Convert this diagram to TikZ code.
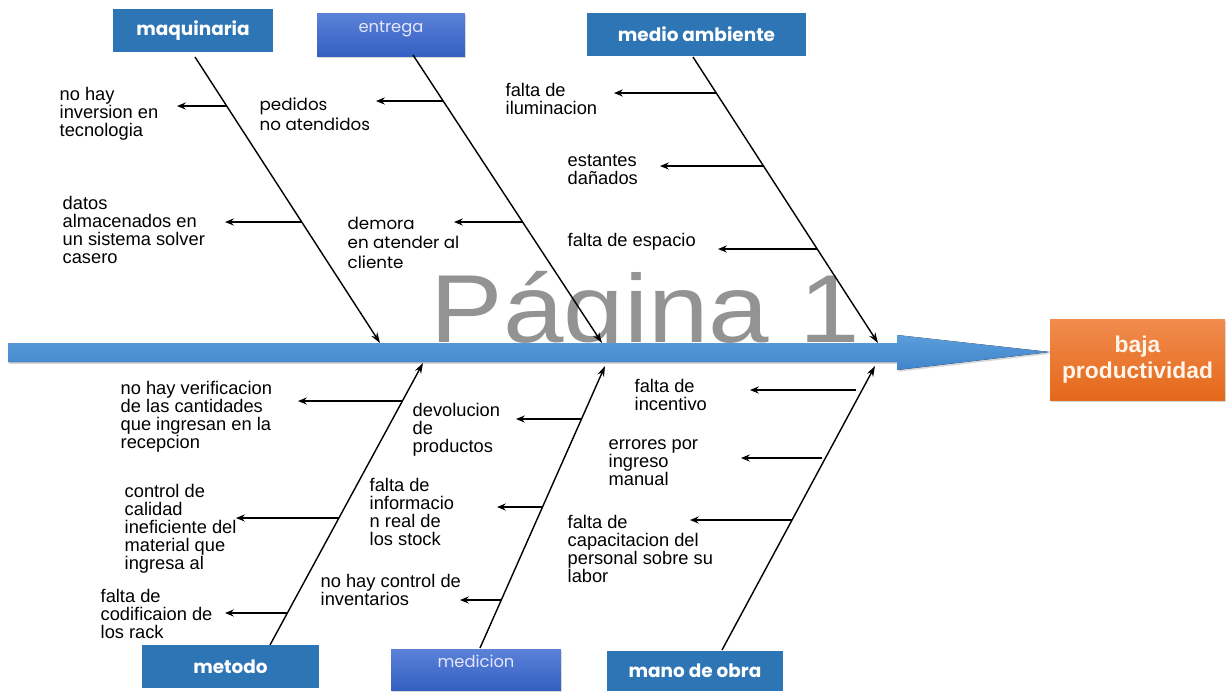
\documentclass[tikz,border=0pt]{standalone}
\usepackage{fontspec}
\setmainfont{Liberation Sans}
\newfontfamily\geofont{Poppins}
\usetikzlibrary{arrows.meta,shadows}

\definecolor{cajaazul}{RGB}{46,117,182}
\definecolor{cajaclara}{RGB}{92,130,216}
\definecolor{cajaoscura}{RGB}{52,96,194}
\definecolor{lomo}{RGB}{92,158,218}
\definecolor{lomoosc}{RGB}{64,132,204}
\definecolor{naranjaclaro}{RGB}{241,140,78}
\definecolor{naranjaosc}{RGB}{228,104,26}
\newcommand{\marcaagua}{gray!85}
\tikzset{every path/.style={line width=.8pt}}
\tikzset{
  sombra/.style={drop shadow={shadow xshift=.8pt,shadow yshift=-1pt,opacity=.3}},
  caja/.style={fill=cajaazul, text=white, inner sep=0pt,
    font={\geofont\bfseries\fontsize{10.5}{11}\selectfont}},
  cajagrad/.style={top color=cajaclara, bottom color=cajaoscura, text=white!90!blue,
    inner sep=0pt, text height=6.5pt, text depth=9pt, sombra,
    font={\geofont\fontsize{9.3}{10}\selectfont}},
  efecto/.style={top color=naranjaclaro, bottom color=naranjaosc, text=white!92!orange,
    inner sep=0pt, align=center, minimum width=3.5cm, minimum height=1.62cm, sombra,
    font={\bfseries\fontsize{13}{14.8}\selectfont}},
  causa/.style={anchor=north west, inner sep=0pt, align=left,
    font={\fontsize{10.4}{10.25}\selectfont}, execute at begin node=\strut},
  causageo/.style={causa, font={\geofont\fontsize{9.5}{11.2}\selectfont}},
  hueso/.style={-{Stealth[length=6pt,width=4pt]}},
  rama/.style={-{Stealth[length=5pt,width=4pt]}, line width=.7pt}
}

\begin{document}
\begin{tikzpicture}[x=0.02cm,y=-0.02cm]

\path[fill=white] (0,0) rectangle (1231,691);
\useasboundingbox (0,0) rectangle (1231,691);

\node[anchor=base west, inner sep=0pt, text=\marcaagua, font={\fontsize{55}{60}\selectfont}] (marca) at (430,342) {\scalebox{1.125}[1]{Página 1}};

\node[caja, minimum width=3.2cm, minimum height=.86cm] (maq) at (193,30.5) {maquinaria};
\node[cajagrad, minimum width=2.96cm, minimum height=.86cm] (ent) at (391,34.5) {entrega};
\node[caja, minimum width=4.38cm, minimum height=.86cm] (med) at (696.5,34.5) {medio ambiente};
\node[caja, minimum width=3.54cm, minimum height=.86cm] (met) at (230.5,666.5) {metodo};
\node[cajagrad, minimum width=3.4cm, minimum height=.82cm] (mdc) at (476,669.5) {medicion};
\node[caja, minimum width=3.52cm, minimum height=.8cm] (mob) at (695,671) {mano de obra};
\node[efecto] (ef) at (1137.5,359.5) {baja\\productividad};

\coordinate (punta) at (1050,352);
\fill[top color=lomo, bottom color=lomoosc, sombra] (8,343) -- (897,343) -- (897,335) -- (punta) -- (897,370) -- (897,362) -- (8,362) -- cycle;

\coordinate (maqh) at (195,57);
\coordinate (maqe) at (380,343);
\coordinate (enth) at (413,55);
\coordinate (ente) at (602,343);
\coordinate (medh) at (693,57);
\coordinate (mede) at (878,343);
\coordinate (meth) at (270,645);
\coordinate (mete) at (423,363);
\coordinate (mdch) at (480,648);
\coordinate (mdce) at (605,366);
\coordinate (mobh) at (722,650);
\coordinate (mobe) at (875,366);
\draw[hueso] (maqh) -- (maqe);
\draw[hueso] (enth) -- (ente);
\draw[hueso] (medh) -- (mede);
\draw[hueso] (meth) -- (mete);
\draw[hueso] (mdch) -- (mdce);
\draw[hueso] (mobh) -- (mobe);

\foreach \n/\xa/\xb/\yy in {r1/227/177/106, r2/302/225/222, r3/443/376/101, r4/522/454/222,
  r5/716/614/93, r6/763/660/166, r7/817/718/249, r8/402/298/401, r9/339/236/518,
  r10/287/225/613, r11/582/516/419, r12/542/497/507, r13/501/460/600,
  r14/856/750/390, r15/822/741/458, r16/792/690/520}
{
  \coordinate (\n a) at (\xa,\yy);
  \coordinate (\n b) at (\xb,\yy);
  \draw[rama] (\n a) -- (\n b);
}

\node[causa] (c1) at (59,87) {no hay\\inversion en\\tecnologia};
\node[causa] (c2) at (62,196) {datos\\almacenados en\\un sistema solver\\casero};
\node[causageo] (c3) at (259,97) {pedidos\\no atendidos};
\node[causageo] (c4) at (347,216) {demora\\en atender al\\cliente};
\node[causa] (c5) at (505,83) {falta de\\iluminacion};
\node[causa] (c6) at (567,154) {estantes\\dañados};
\node[causa] (c7) at (567,233) {falta de espacio};
\node[causa] (c8) at (120,381) {no hay verificacion\\de las cantidades\\que ingresan en la\\recepcion};
\node[causa] (c9) at (124,484) {control de\\calidad\\ineficiente del\\material que\\ingresa al};
\node[causa] (c10) at (100,589) {falta de\\codificaion de\\los rack};
\node[causa] (c11) at (412,403) {devolucion\\de\\productos};
\node[causa] (c12) at (369,478) {falta de\\informacio\\n real de\\los stock};
\node[causa] (c13) at (320,574) {no hay control de\\inventarios};
\node[causa] (c14) at (634,379) {falta de\\incentivo};
\node[causa] (c15) at (608,439) {errores por\\ingreso\\manual};
\node[causa] (c16) at (567,515) {falta de\\capacitacion del\\personal sobre su\\labor};
\end{tikzpicture}
\end{document}
